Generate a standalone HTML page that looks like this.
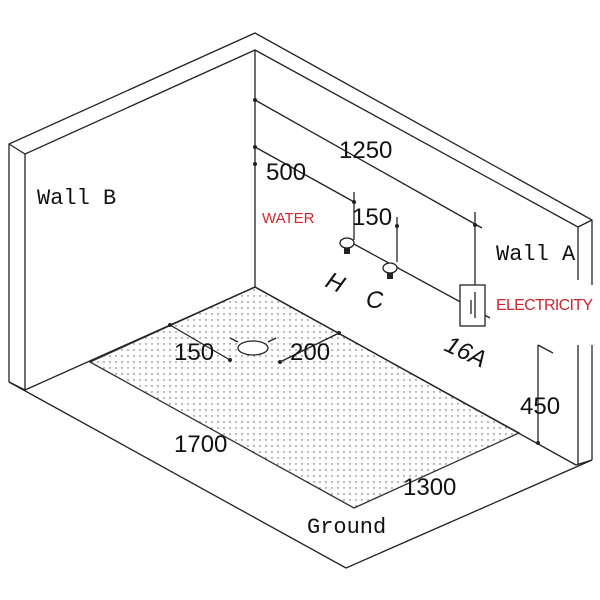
<!DOCTYPE html>
<html><head><style>body{margin:0;background:#fff}svg{display:block}</style></head>
<body>
<svg width="600" height="600" viewBox="0 0 600 600" xmlns="http://www.w3.org/2000/svg">
<defs>
<pattern id="dots" width="6" height="6" patternUnits="userSpaceOnUse"><circle cx="2" cy="2" r="0.7" fill="#555"/></pattern>
</defs>
<g stroke="#222" stroke-width="1.3" fill="none">
<polygon points="255,287 90,362 354,508 519,433" fill="url(#dots)" stroke="#333"/>
<polyline points="9,382 9,144 255,33 592,220 592,285"/>
<polyline points="25,390 25,154 255,50 578,227 578,280"/>
<line x1="592" y1="345" x2="592" y2="460"/>
<line x1="578" y1="345" x2="578" y2="465"/>
<line x1="9" y1="144" x2="25" y2="154"/>
<line x1="592" y1="220" x2="578" y2="227"/>
<line x1="255" y1="50" x2="255" y2="287"/>
<polyline points="9,382 346,568 592,460"/>
<line x1="9" y1="382" x2="25" y2="390"/>
<line x1="576" y1="465" x2="592" y2="460"/>
<line x1="25" y1="390" x2="255" y2="287"/>
<line x1="255" y1="287" x2="576" y2="465"/>
<line x1="255" y1="100" x2="482" y2="228"/>
<line x1="255" y1="147" x2="356" y2="203"/>
<line x1="354" y1="192" x2="354" y2="240"/>
<line x1="397" y1="217" x2="397" y2="262"/>
<line x1="475" y1="212" x2="475" y2="312"/>
<line x1="352" y1="243" x2="490" y2="318"/>
<line x1="538" y1="345" x2="538" y2="443"/>
<line x1="538" y1="345" x2="553" y2="353"/>
<line x1="170" y1="325" x2="230" y2="360"/>
<line x1="339" y1="333" x2="280" y2="362"/>
<ellipse cx="253" cy="348" rx="15" ry="7" fill="#fff"/>
<line x1="238" y1="342" x2="230" y2="338"/><line x1="268" y1="342" x2="276" y2="338"/>
<rect x="460" y="285" width="25" height="41" fill="#fff"/>
<line x1="475" y1="292" x2="475" y2="318"/>
<line x1="471" y1="300" x2="471" y2="314"/>
<ellipse cx="347" cy="243" rx="7" ry="5" fill="#fff"/>
<ellipse cx="390" cy="268" rx="7" ry="5" fill="#fff"/>
</g>
<g fill="#222">
<circle cx="255" cy="100" r="2"/><circle cx="255" cy="147" r="2"/><circle cx="255" cy="164" r="2"/>
<circle cx="354" cy="202" r="2"/><circle cx="397" cy="226" r="2"/><circle cx="475" cy="225" r="2"/>
<circle cx="170" cy="325" r="2"/><circle cx="339" cy="333" r="2"/><circle cx="538" cy="443" r="2"/>
<circle cx="230" cy="360" r="2"/><circle cx="280" cy="362" r="2"/>
<rect x="344" y="248" width="6" height="6"/><rect x="387" y="273" width="6" height="6"/>
</g>
<g font-family="Liberation Sans, sans-serif" font-size="24" fill="#111">
<text x="339" y="158">1250</text>
<text x="266" y="180">500</text>
<text x="352" y="225">150</text>
<text x="174" y="360">150</text>
<text x="290" y="360">200</text>
<text x="174" y="452">1700</text>
<text x="403" y="495">1300</text>
<text x="520" y="414">450</text>
<text x="443" y="350" transform="rotate(25 443 350)" font-style="italic">16A</text>
<text x="324" y="286" transform="rotate(25 324 286)" font-style="italic">H</text>
<text x="366" y="308" font-style="italic">C</text>
</g>
<g font-family="Liberation Mono, monospace" font-size="22" fill="#111">
<text x="37" y="204">Wall B</text>
<text x="496" y="260">Wall A</text>
<text x="307" y="533">Ground</text>
</g>
<g font-family="Liberation Sans, sans-serif" fill="#d0262e">
<text x="262" y="223" font-size="15">WATER</text>
<text x="496" y="310" font-size="16" textLength="97">ELECTRICITY</text>
</g>
</svg>
</body></html>
